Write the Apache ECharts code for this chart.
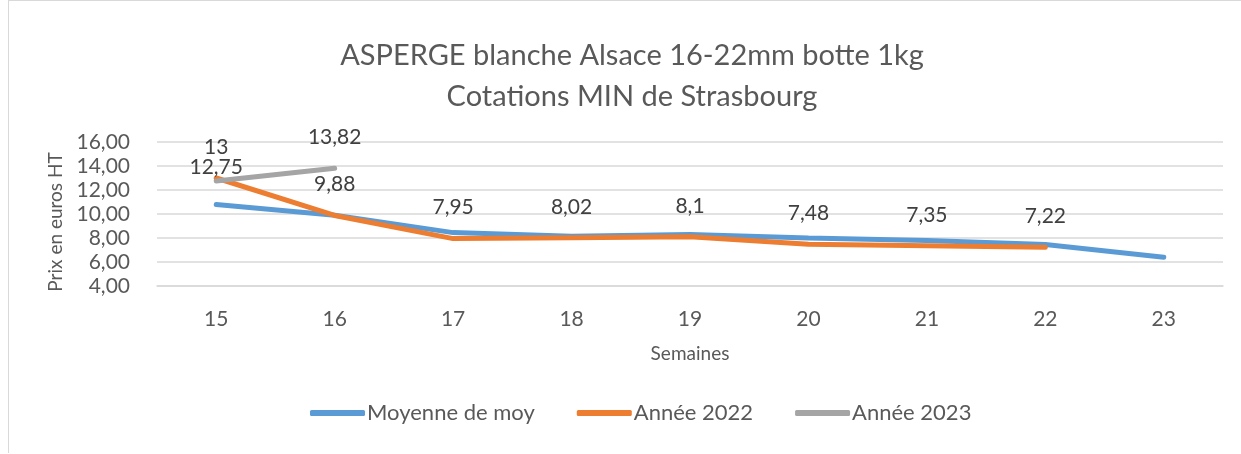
<!DOCTYPE html>
<html>
<head>
<meta charset="utf-8">
<script src="https://cdn.jsdelivr.net/npm/echarts@6/dist/echarts.min.js"></script>
<style>
  html, body { margin: 0; padding: 0; background: #fff; }
  #frame { position: absolute; left: 8px; top: 0; width: 1240px; height: 453px; border-left: 1px solid #d9d9d9; border-top: 1px solid #d9d9d9; box-sizing: border-box; }
  #chart { width: 1241px; height: 454px; }
</style>
</head>
<body>
<div id="frame"></div>
<div id="chart"></div>
<script>
  // données
  var semaines = ['15', '16', '17', '18', '19', '20', '21', '22', '23'];
  var moyenne = [10.8, 9.9, 8.45, 8.15, 8.3, 8.0, 7.8, 7.45, 6.4];
  var annee2022 = [13, 9.88, 7.95, 8.02, 8.1, 7.48, 7.35, 7.22, null];
  var annee2023 = [12.75, 13.82, null, null, null, null, null, null, null];

  var txt = '#595959';
  var fnt = 'Lato, "Open Sans", sans-serif';

  function fr(v) { return String(v).replace('.', ','); }

  // l'étiquette 12,75 est placée plus bas dans l'original
  var data2023 = annee2023.map(function (v, i) {
    if (i === 0) return { value: v, label: { distance: 3 } };
    return v;
  });

  var myChart = echarts.init(document.getElementById('chart'));
  var option = {
    backgroundColor: 'transparent',
    textStyle: { fontFamily: fnt },
    title: {
      text: 'ASPERGE blanche Alsace 16-22mm botte 1kg\nCotations MIN de Strasbourg',
      left: 627, top: 30, textAlign: 'center',
      textStyle: { fontSize: 29, fontWeight: 'normal', color: txt, lineHeight: 41, fontFamily: fnt }
    },
    legend: {
      top: 397, left: 305,
      itemWidth: 55, itemHeight: 6, itemGap: 42,
      icon: 'roundRect',
      textStyle: { fontSize: 22, color: txt, fontFamily: fnt, padding: [0, 0, 0, -3] },
      data: ['Moyenne de moy', 'Année 2022', 'Année 2023']
    },
    grid: { left: 157, right: 18, top: 142, bottom: 168 },
    xAxis: {
      type: 'category',
      data: semaines,
      name: 'Semaines', nameLocation: 'middle', nameGap: 58,
      nameTextStyle: { fontSize: 19, color: txt },
      axisLine: { lineStyle: { color: '#d9d9d9', width: 1.5 } },
      axisTick: { show: false },
      axisLabel: { fontSize: 21, color: txt, margin: 23 }
    },
    yAxis: {
      type: 'value', min: 4, max: 16, interval: 2,
      name: 'Prix en euros HT', nameLocation: 'middle', nameGap: 90,
      nameTextStyle: { fontSize: 19, color: txt, padding: [0, 16, 0, 0] },
      axisLine: { show: false }, axisTick: { show: false },
      axisLabel: { fontSize: 21, color: txt, margin: 27, formatter: function (v) { return v.toFixed(2).replace('.', ','); } },
      splitLine: { lineStyle: { color: '#d9d9d9', width: 1.5 } }
    },
    series: [
      {
        name: 'Moyenne de moy', type: 'line', data: moyenne,
        symbol: 'none', color: '#5B9BD5',
        lineStyle: { width: 5, color: '#5B9BD5', cap: 'round' }
      },
      {
        name: 'Année 2022', type: 'line', data: annee2022,
        symbol: 'circle', symbolSize: 1, showSymbol: true, color: '#ED7D31',
        lineStyle: { width: 5, color: '#ED7D31', cap: 'round' },
        label: { show: true, position: 'top', distance: 20, fontSize: 21, color: '#404040', formatter: function (p) { return fr(p.value); } }
      },
      {
        name: 'Année 2023', type: 'line', data: data2023,
        symbol: 'circle', symbolSize: 1, showSymbol: true, color: '#A5A5A5',
        lineStyle: { width: 5, color: '#A5A5A5', cap: 'round' },
        label: { show: true, position: 'top', distance: 20, fontSize: 21, color: '#404040', formatter: function (p) { return fr(p.value); } }
      }
    ]
  };
  myChart.setOption(option);
</script>
</body>
</html>
